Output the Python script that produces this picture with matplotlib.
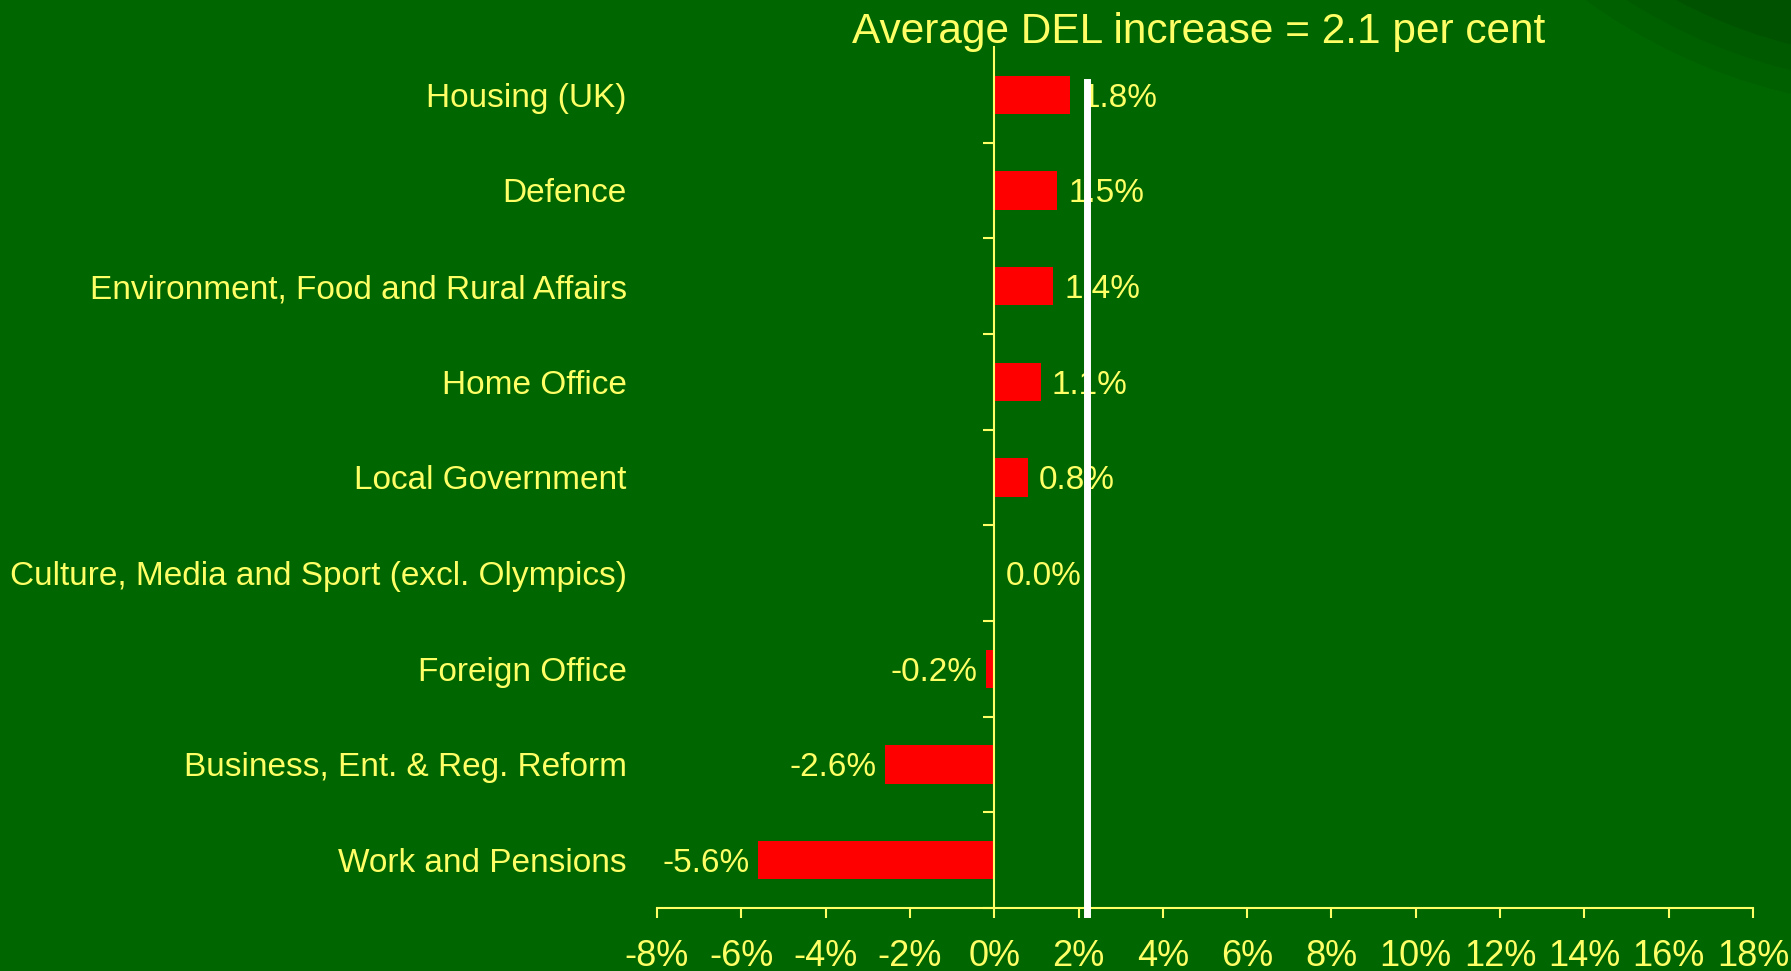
import numpy as np
import matplotlib
matplotlib.use("Agg")
import matplotlib.pyplot as plt
from matplotlib.patches import Circle
from matplotlib.transforms import blended_transform_factory

# data
departments = [
    "Housing (UK)",
    "Defence",
    "Environment, Food and Rural Affairs",
    "Home Office",
    "Local Government",
    "Culture, Media and Sport (excl. Olympics)",
    "Foreign Office",
    "Business, Ent. & Reg. Reform",
    "Work and Pensions",
]
changes = [1.8, 1.5, 1.4, 1.1, 0.8, 0.0, -0.2, -2.6, -5.6]
average_line = 2.2
x_ticks = [-8, -6, -4, -2, 0, 2, 4, 6, 8, 10, 12, 14, 16, 18]
title = "Average DEL increase = 2.1 per cent"

bg = "#006600"
yellow = "#ffff66"
red = "#ff0000"

plt.rcParams["font.family"] = ["Liberation Sans", "DejaVu Sans"]

fig = plt.figure(figsize=(17.91, 9.71), dpi=100, facecolor=bg)

# darker shading in the top right corner
fig.add_artist(Circle((19.2, 14.31), 5.68, transform=fig.dpi_scale_trans,
                      color="#006000", zorder=-3))
fig.add_artist(Circle((19.2, 14.31), 5.45, transform=fig.dpi_scale_trans,
                      color="#005a00", zorder=-2))
fig.add_artist(Circle((19.2, 14.31), 5.2, transform=fig.dpi_scale_trans,
                      color="#005200", zorder=-1))

ax = fig.add_axes([0.3668, 0.0649, 0.612, 0.8867])
ax.patch.set_visible(False)

y = np.arange(len(departments))
ax.barh(y, changes, height=0.4, color=red, zorder=2)
ax.set_xlim(x_ticks[0], x_ticks[-1])
ax.set_ylim(len(departments) - 0.5, -0.5)

for s in ["top", "right"]:
    ax.spines[s].set_visible(False)
ax.spines["left"].set_position(("data", 0))
for s in ["left", "bottom"]:
    ax.spines[s].set_color(yellow)
    ax.spines[s].set_linewidth(1.5)

ax.set_xticks(x_ticks)
ax.set_xticklabels([str(t) + "%" for t in x_ticks])
ax.tick_params(axis="x", colors=yellow, length=7, width=1.5, pad=15)
for lab in ax.get_xticklabels():
    lab.set_fontfamily(["Liberation Sans Narrow", "Liberation Sans"])
    lab.set_fontsize(26)

ax.set_yticks(y + 0.5)
ax.tick_params(axis="y", color=yellow, length=8, width=1.5, labelleft=False)

trans = blended_transform_factory(ax.transAxes, ax.transData)
for i, name in enumerate(departments):
    ax.text(-0.0275, i, name, transform=trans, ha="right", va="center_baseline",
            color=yellow, fontsize=24)

for i, v in enumerate(changes):
    if v >= 0:
        ax.annotate("%.1f%%" % v, (v, i), xytext=(8, 0), textcoords="offset points",
                    ha="left", va="center_baseline", color=yellow, fontsize=24)
    else:
        ax.annotate("%.1f%%" % v, (v, i), xytext=(-6, 0), textcoords="offset points",
                    ha="right", va="center_baseline", color=yellow, fontsize=24)

ax.plot([average_line, average_line], [-0.13, len(departments) - 0.44],
        color="white", lw=5, clip_on=False, zorder=5)

fig.text(0.669, 0.967, title, ha="center", va="center", fontsize=30.5, color=yellow)

fig.savefig("out.png", dpi=100, facecolor=bg)
